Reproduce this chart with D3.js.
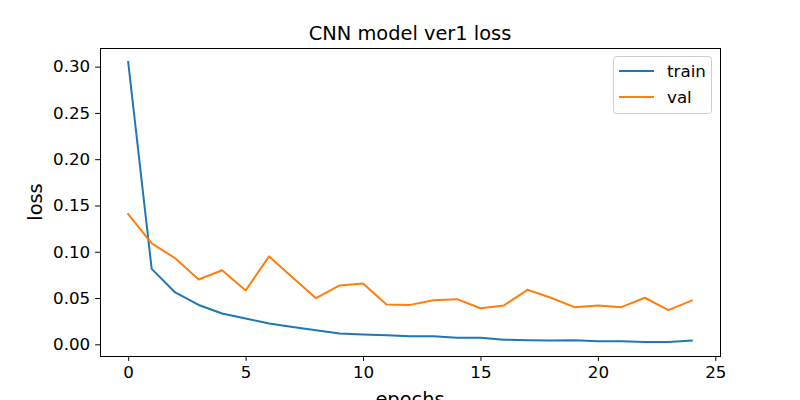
<!DOCTYPE html>
<html>
<head>
<meta charset="utf-8">
<script src="https://cdn.jsdelivr.net/npm/d3@7"></script>
<style>
  html, body { margin: 0; padding: 0; background: #fff; }
  svg { display: block; font-family: "DejaVu Sans", sans-serif; }
</style>
</head>
<body>
<svg id="chart" width="800" height="400"></svg>
<script>
const epochs = d3.range(0, 25);
const trainLoss = [0.305, 0.0815, 0.056, 0.0425, 0.0333, 0.0279, 0.0224, 0.0188, 0.0152, 0.0116,
  0.0105, 0.0098, 0.0087, 0.0087, 0.0072, 0.0072, 0.0050, 0.0043, 0.0040, 0.0043,
  0.0033, 0.0032, 0.0025, 0.0025, 0.0040];
const valLoss = [0.1406, 0.109, 0.093, 0.070, 0.080, 0.0582, 0.095, 0.0723, 0.0499, 0.0636,
  0.0658, 0.043, 0.0426, 0.0477, 0.0488, 0.039, 0.042, 0.0589, 0.0503, 0.0401,
  0.042, 0.0401, 0.0503, 0.0369, 0.0474];
const seriesNames = ["train", "val"];
const seriesColors = ["#1f77b4", "#ff7f0e"];
const xTicks = [0, 5, 10, 15, 20, 25];
const yTicks = [0.00, 0.05, 0.10, 0.15, 0.20, 0.25, 0.30];
const title = "CNN model ver1 loss";
const xLabel = "epochs";
const yLabel = "loss";

const svg = d3.select("#chart");
const L = 100, R = 720, T = 48, B = 356;

const allVals = trainLoss.concat(valLoss);
const yMin = d3.min(allVals), yMax = d3.max(allVals);
const yPad = (yMax - yMin) * 0.05;
const x = d3.scaleLinear().domain([-1.2, 25.2]).range([L, R]);
const y = d3.scaleLinear().domain([yMin - yPad, yMax + yPad]).range([B, T]);

// axes
const xAxis = d3.axisBottom(x).tickValues(xTicks).tickFormat(d3.format("d")).tickSize(4.9).tickPadding(4.9);
const yAxis = d3.axisLeft(y).tickValues(yTicks).tickFormat(d3.format(".2f")).tickSize(4.9).tickPadding(4.9);

const gx = svg.append("g").attr("transform", `translate(0,${B})`).call(xAxis);
const gy = svg.append("g").attr("transform", `translate(${L},0)`).call(yAxis);
[gx, gy].forEach(g => {
  g.select(".domain").remove();
  g.selectAll("line").attr("stroke", "#000").attr("stroke-width", 1);
  g.selectAll("text").attr("font-size", "16.7px").attr("fill", "#000")
    .attr("font-family", "DejaVu Sans, sans-serif");
});

// lines
const line = d3.line().x((d, i) => x(epochs[i])).y(d => y(d));
const clip = svg.append("clipPath").attr("id", "clip").append("rect")
  .attr("x", L).attr("y", T).attr("width", R - L).attr("height", B - T);
[trainLoss, valLoss].forEach((data, k) => {
  svg.append("path").datum(data)
    .attr("d", line)
    .attr("fill", "none")
    .attr("stroke", seriesColors[k])
    .attr("stroke-width", 2)
    .attr("stroke-linejoin", "round")
    .attr("stroke-linecap", "square")
    .attr("clip-path", "url(#clip)");
});

// frame
svg.append("rect").attr("x", L).attr("y", T).attr("width", R - L).attr("height", B - T)
  .attr("fill", "none").attr("stroke", "#000").attr("stroke-width", 1)
  .attr("shape-rendering", "crispEdges");

// title and labels
svg.append("text").attr("x", (L + R) / 2).attr("y", 40).attr("text-anchor", "middle")
  .attr("font-size", "19.4px").attr("fill", "#000").text(title);
svg.append("text").attr("x", (L + R) / 2).attr("y", 406).attr("text-anchor", "middle")
  .attr("font-size", "19.4px").attr("fill", "#000").text(xLabel);
svg.append("text").attr("transform", `translate(42,${(T + B) / 2}) rotate(-90)`)
  .attr("text-anchor", "middle").attr("font-size", "19.4px").attr("fill", "#000").text(yLabel);

// legend
const lg = svg.append("g");
lg.append("rect").attr("x", 613.5).attr("y", 56.5).attr("width", 98).attr("height", 57)
  .attr("rx", 3).attr("fill", "#fff").attr("fill-opacity", 0.8)
  .attr("stroke", "#cccccc").attr("stroke-width", 1);
seriesNames.forEach((name, k) => {
  const yy = 71 + k * 26;
  lg.append("line").attr("x1", 619).attr("x2", 654).attr("y1", yy).attr("y2", yy)
    .attr("stroke", seriesColors[k]).attr("stroke-width", 2);
  lg.append("text").attr("x", 667).attr("y", yy + 6).attr("font-size", "16.7px")
    .attr("fill", "#000").text(name);
});
</script>
</body>
</html>
